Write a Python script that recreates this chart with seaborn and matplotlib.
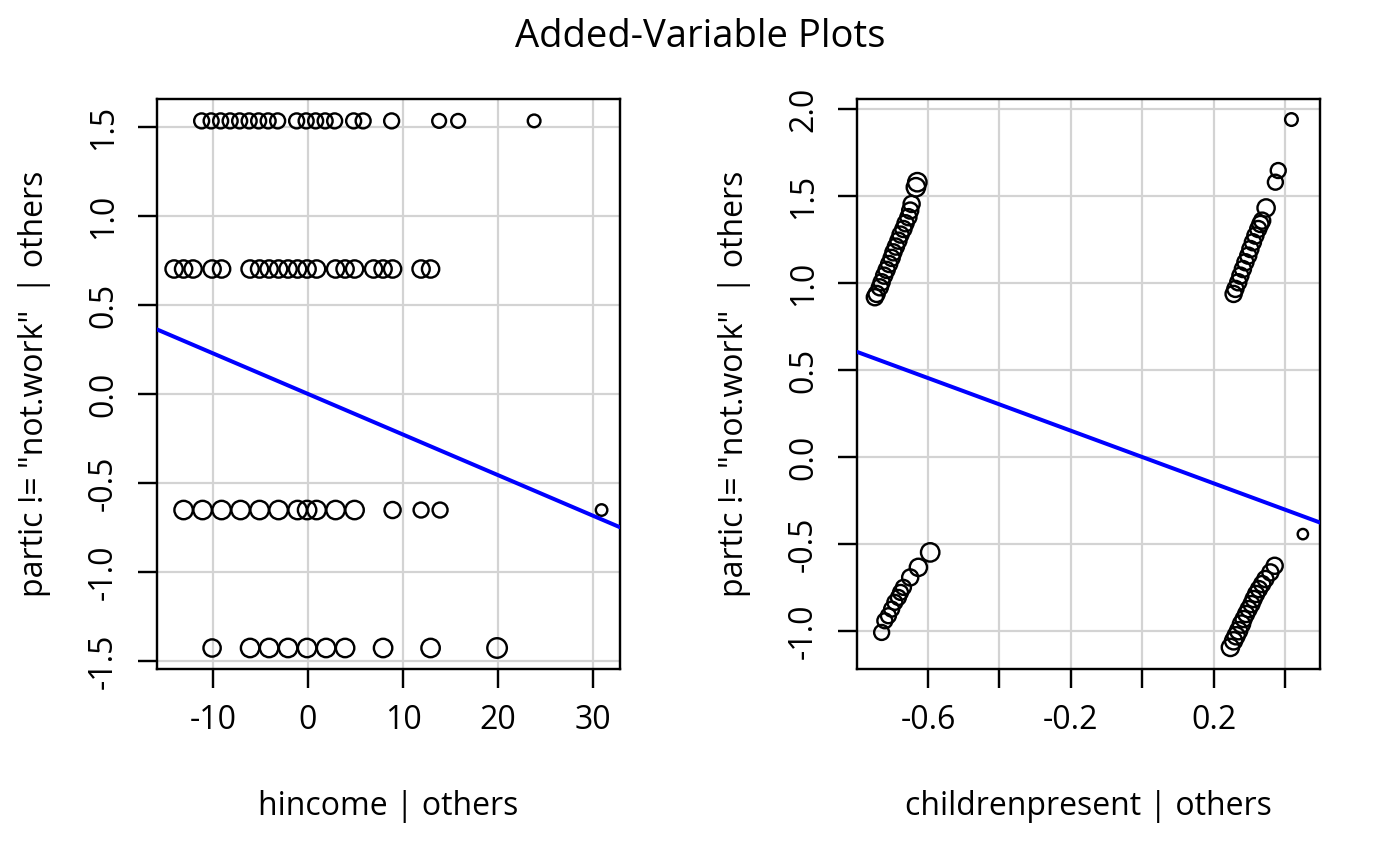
import matplotlib
matplotlib.use("Agg")
import matplotlib.pyplot as plt
import seaborn as sns
import pandas as pd
import numpy as np

# ---- data (residuals | others) ----
# left panel: hincome | others, four levels of the response residual
hinc_x_r1 = [-11.2, -10.2, -9.2, -8.2, -7.2, -6.2, -5.2, -4.2, -3.2,
             -1.2, -0.2, 0.8, 1.8, 2.8, 4.8, 5.8, 8.8, 13.8, 15.8, 23.8]
hinc_d_r1 = [13] * 17 + [12, 12, 11]
hinc_x_r2 = [-14.1, -13.1, -12.1, -10.1, -9.1, -6.1, -5.1, -4.1, -3.1, -2.1,
             -1.1, -0.1, 0.9, 2.9, 3.9, 4.9, 6.9, 7.9, 8.9, 11.9, 12.9]
hinc_d_r2 = [15] * 21
hinc_x_r3 = [-13.1, -11.1, -9.1, -7.1, -5.1, -3.1, -1.1, -0.1, 0.9, 2.9,
             4.9, 8.9, 11.9, 13.9, 30.9]
hinc_d_r3 = [16] * 11 + [14, 13, 13, 10]
hinc_x_r4 = [-10.1, -6.1, -4.1, -2.1, -0.1, 1.9, 3.9, 7.9, 12.9, 19.9]
hinc_d_r4 = [15, 16, 16, 16, 16, 16, 16, 16, 16, 17]
hinc_levels = [1.534, 0.702, -0.652, -1.427]
hinc_slope = -0.0228

# right panel: childrenpresent | others
child_x = [-0.749, -0.744, -0.735, -0.730, -0.723, -0.716, -0.709, -0.702, -0.697,
           -0.690, -0.683, -0.677, -0.669, -0.663, -0.655, -0.650, -0.646, -0.634, -0.630,
           -0.730, -0.721, -0.711, -0.702, -0.693, -0.683, -0.677, -0.669, -0.650,
           -0.627, -0.594,
           0.256, 0.261, 0.269, 0.275, 0.282, 0.289, 0.297, 0.303, 0.310, 0.317,
           0.325, 0.331, 0.336, 0.347, 0.373, 0.381, 0.418,
           0.247, 0.256, 0.263, 0.270, 0.278, 0.284, 0.291, 0.298, 0.306, 0.312,
           0.319, 0.327, 0.336, 0.345, 0.359, 0.371, 0.450]
child_y = [0.918, 0.937, 0.975, 1.004, 1.042, 1.075, 1.109, 1.144, 1.176,
           1.209, 1.243, 1.278, 1.310, 1.343, 1.378, 1.416, 1.454, 1.550, 1.579,
           -1.008, -0.941, -0.912, -0.874, -0.835, -0.807, -0.778, -0.749, -0.692,
           -0.634, -0.548,
           0.937, 0.966, 1.004, 1.042, 1.080, 1.119, 1.157, 1.195, 1.234, 1.272,
           1.310, 1.339, 1.358, 1.431, 1.579, 1.646, 1.939,
           -1.094, -1.056, -1.027, -0.998, -0.960, -0.931, -0.902, -0.874, -0.845, -0.816,
           -0.787, -0.759, -0.730, -0.701, -0.663, -0.625, -0.443]
child_d = [14] * 17 + [16, 16] + [13] * 8 + [14, 15, 16] + \
          [14] * 13 + [15, 13, 13, 11] + [15] * 5 + [14] * 11 + [9]
child_slope = -0.756

hinc_x = hinc_x_r1 + hinc_x_r2 + hinc_x_r3 + hinc_x_r4
hinc_y = ([hinc_levels[0]] * len(hinc_x_r1) + [hinc_levels[1]] * len(hinc_x_r2)
          + [hinc_levels[2]] * len(hinc_x_r3) + [hinc_levels[3]] * len(hinc_x_r4))
hinc_d = hinc_d_r1 + hinc_d_r2 + hinc_d_r3 + hinc_d_r4

df_left = pd.DataFrame({"x": hinc_x, "y": hinc_y, "d": hinc_d})
df_right = pd.DataFrame({"x": child_x, "y": child_y, "d": child_d})

sns.set_style("white")
plt.rcParams['font.family'] = ['Open Sans', 'DejaVu Sans']
plt.rcParams['axes.unicode_minus'] = False
plt.rcParams['text.color'] = 'black'
plt.rcParams['axes.labelcolor'] = 'black'

PX = 0.72  # points per pixel at dpi 100
SIZE_SCALE = 1.15
fig = plt.figure(figsize=(14, 8.66), dpi=100)
ax_l = fig.add_axes([157 / 1400, 1 - 669 / 866, 463 / 1400, 570 / 866])
ax_r = fig.add_axes([857 / 1400, 1 - 669 / 866, 463 / 1400, 570 / 866])

panels = [
    (ax_l, df_left, hinc_slope, (-15.9, 32.84), (-1.545, 1.657),
     [-10, 0, 10, 20, 30], ['-10', '0', '10', '20', '30'],
     [-1.5, -1.0, -0.5, 0.0, 0.5, 1.0, 1.5],
     ['-1.5', '-1.0', '-0.5', '0.0', '0.5', '1.0', '1.5'],
     'hincome | others'),
    (ax_r, df_right, child_slope, (-0.799, 0.498), (-1.218, 2.057),
     [-0.6, -0.4, -0.2, 0.0, 0.2, 0.4], ['-0.6', '', '-0.2', '', '0.2', ''],
     [-1.0, -0.5, 0.0, 0.5, 1.0, 1.5, 2.0],
     ['-1.0', '-0.5', '0.0', '0.5', '1.0', '1.5', '2.0'],
     'childrenpresent | others'),
]

for ax, df, slope, xlim, ylim, xt, xtl, yt, ytl, xlab in panels:
    ax.set_xlim(*xlim)
    ax.set_ylim(*ylim)
    ax.set_xticks(xt)
    ax.set_xticklabels(xtl)
    ax.set_yticks(yt)
    ax.set_yticklabels(ytl, rotation=90, va='center')
    ax.grid(True, color='#d3d3d3', linewidth=2.2 * PX)
    ax.set_axisbelow(True)

    sns.scatterplot(data=df, x='x', y='y', s=(df['d'] * SIZE_SCALE * PX) ** 2,
                    marker='o', facecolors='none', edgecolors='black',
                    linewidth=2.4 * PX, ax=ax, legend=False, zorder=3)
    ax.axline((0, 0), slope=slope, color='#0000ff', linewidth=4 * PX, zorder=4)

    for sp in ax.spines.values():
        sp.set_visible(True)
        sp.set_color('black')
        sp.set_linewidth(2.4 * PX)
    ax.tick_params(axis='both', direction='out', length=19 * PX, width=2.4 * PX,
                   labelsize=23, color='black', labelcolor='black')
    ax.tick_params(axis='x', pad=11.5, bottom=True)
    ax.tick_params(axis='y', pad=13, left=True)

    ax.set_xlabel(xlab, fontsize=23)
    ax.xaxis.set_label_coords(0.5, -0.2561)
    ax.xaxis.label.set_va('baseline')
    ax.set_ylabel('partic != "not.work"  | others', fontsize=23)
    ax.yaxis.set_label_coords(-0.246, 0.5)
    ax.yaxis.label.set_va('baseline')

fig.suptitle('Added-Variable Plots', fontsize=27.5, y=1 - 37 / 866, va='center',
             color='black')

fig.savefig('out.png', dpi=100)
